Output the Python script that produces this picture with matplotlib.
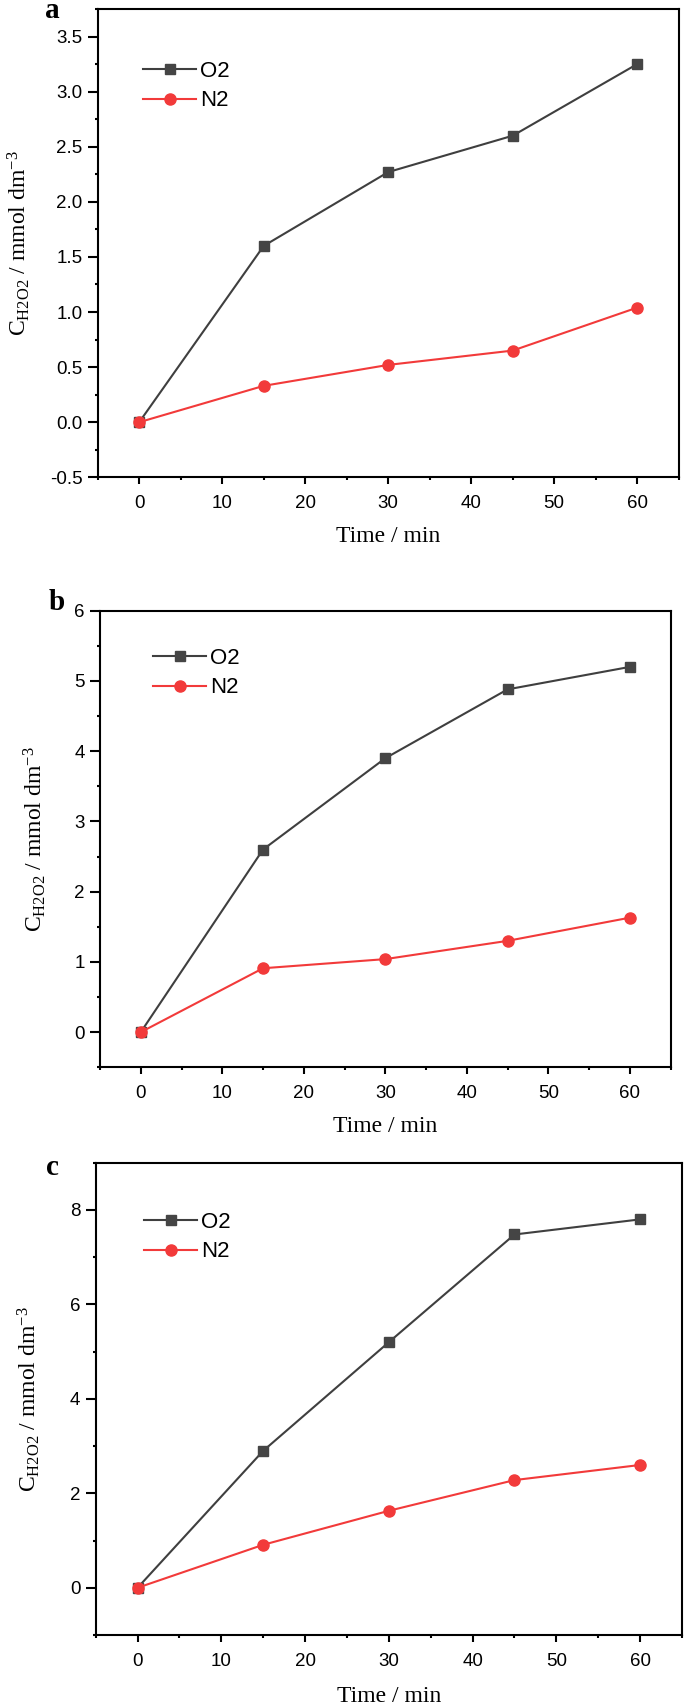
import matplotlib
matplotlib.use("Agg")
import matplotlib.pyplot as plt
from matplotlib.ticker import MultipleLocator, FormatStrFormatter

# ---------------- data ----------------
time_min = [0, 15, 30, 45, 60]

a_o2 = [0.0, 1.60, 2.27, 2.60, 3.25]
a_n2 = [0.0, 0.33, 0.52, 0.65, 1.04]

b_o2 = [0.0, 2.60, 3.90, 4.88, 5.20]
b_n2 = [0.0, 0.91, 1.04, 1.30, 1.63]

c_o2 = [0.0, 2.90, 5.20, 7.48, 7.80]
c_n2 = [0.0, 0.91, 1.63, 2.28, 2.60]

panel_letters = ["a", "b", "c"]
series_labels = ["O2", "N2"]
x_label = "Time / min"
y_label = r"C$_{\mathrm{H2O2}}$ / mmol dm$^{-3}$"

# ---------------- style ----------------
plt.rcParams["axes.unicode_minus"] = False
plt.rcParams["mathtext.fontset"] = "custom"
plt.rcParams["mathtext.rm"] = "Liberation Serif"
plt.rcParams["mathtext.it"] = "Liberation Serif:italic"
plt.rcParams["mathtext.bf"] = "Liberation Serif:bold"

W, H = 685, 1707
fig = plt.figure(figsize=(W / 100, H / 100), dpi=100)


def axrect(l, r, t, b):
    return [l / W, 1 - b / H, (r - l) / W, (b - t) / H]


O2_LINE = "#3f3f3f"
O2_MARK = "#454545"
N2_COLOR = "#f23a3a"

panels = [
    dict(rect=(97.7, 678.7, 9, 477.3), o2=a_o2, n2=a_n2, ylim=(-0.5, 3.75),
         major=0.5, minor=0.25, fmt="%.1f", ylab_x=32, xlab_y=536,
         leg=(143, 61), letter=(52, 18)),
    dict(rect=(100, 670.6, 610.7, 1067.3), o2=b_o2, n2=b_n2, ylim=(-0.5, 6.0),
         major=1, minor=0.5, fmt="%d", ylab_x=48, xlab_y=1126,
         leg=(153, 648), letter=(57, 610)),
    dict(rect=(95.7, 682, 1162.7, 1635), o2=c_o2, n2=c_n2, ylim=(-1.0, 9.0),
         major=2, minor=1, fmt="%d", ylab_x=42, xlab_y=1697,
         leg=(144, 1212), letter=(52, 1175)),
]

for letter, p in zip(panel_letters, panels):
    l, r, t, b = p["rect"]
    ax = fig.add_axes(axrect(l, r, t, b))
    ax.plot(time_min, p["o2"], color=O2_LINE, lw=1.5, marker="s", ms=7.2,
            mfc=O2_MARK, mec=O2_MARK, label=series_labels[0], zorder=3)
    ax.plot(time_min, p["n2"], color=N2_COLOR, lw=1.5, marker="o", ms=8,
            mfc=N2_COLOR, mec=N2_COLOR, label=series_labels[1], zorder=4)

    ax.set_xlim(-5, 65)
    ax.set_ylim(*p["ylim"])
    ax.xaxis.set_major_locator(MultipleLocator(10))
    ax.xaxis.set_minor_locator(MultipleLocator(5))
    ax.yaxis.set_major_locator(MultipleLocator(p["major"]))
    ax.yaxis.set_minor_locator(MultipleLocator(p["minor"]))
    ax.yaxis.set_major_formatter(FormatStrFormatter(p["fmt"]))

    for s in ax.spines.values():
        s.set_linewidth(1.5)
        s.set_color("black")

    ax.tick_params(axis="x", which="major", direction="out", length=5, width=1.5,
                   pad=8, labelsize=13.5)
    ax.tick_params(axis="x", which="minor", direction="out", length=2.5, width=1.5)
    ax.tick_params(axis="y", which="major", direction="out", length=7, width=1.5,
                   pad=4, labelsize=13.5)
    ax.tick_params(axis="y", which="minor", direction="out", length=2.5, width=1.5)
    for lab in ax.get_xticklabels() + ax.get_yticklabels():
        lab.set_fontfamily("Liberation Sans")

    # labels
    ax.set_xlabel(x_label, fontsize=17, fontfamily="Liberation Serif")
    ax.xaxis.label.set_verticalalignment("center")
    ax.xaxis.set_label_coords(0.5, 1 - (p["xlab_y"] - t) / (b - t))
    ax.set_ylabel(y_label, fontsize=17, fontfamily="Liberation Serif")
    ax.yaxis.set_label_coords((p["ylab_x"] - l) / (r - l), 0.5)

    # legend
    lx, ly = p["leg"]
    ax.legend(loc="upper left", bbox_to_anchor=(lx / W, 1 - ly / H),
              bbox_transform=fig.transFigure, frameon=False, borderpad=0,
              borderaxespad=0, handlelength=2.4, handletextpad=0.15,
              labelspacing=0.38, prop={"family": "Liberation Sans", "size": 16})

    fx, fy = p["letter"]
    fig.text(fx / W, 1 - fy / H, letter, ha="center", va="baseline",
             fontsize=21, fontweight="bold", fontfamily="Liberation Serif")

fig.savefig("out.png", dpi=100)
